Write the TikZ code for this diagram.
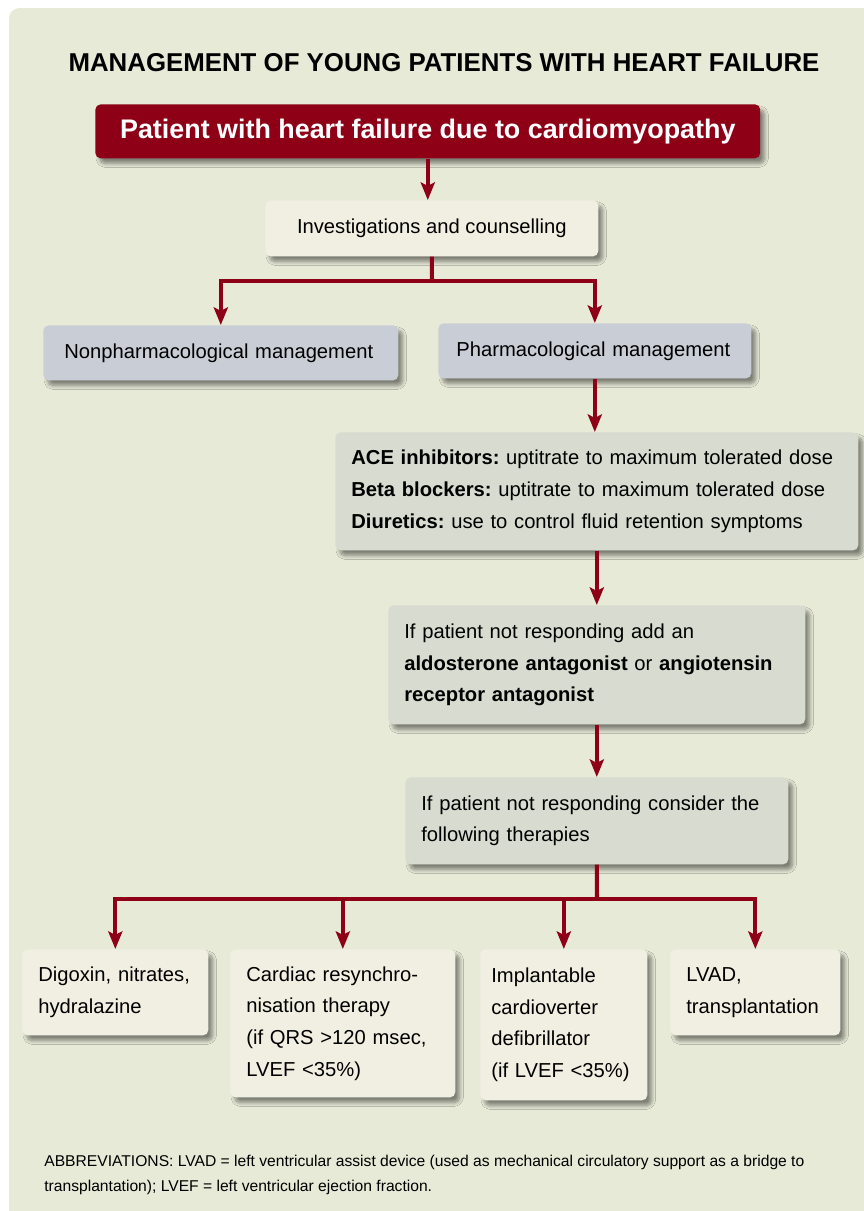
\documentclass[tikz,border=0pt]{standalone}
\usepackage{fontspec}
\setmainfont{Liberation Sans}
\usepackage{xcolor}
\usetikzlibrary{arrows.meta,shadows.blur}
\frenchspacing
\definecolor{cPanel}{RGB}{231,234,215}
\definecolor{cHeart}{RGB}{142,0,22}
\definecolor{cCream}{RGB}{240,239,226}
\definecolor{cBlue}{RGB}{201,205,214}
\definecolor{cGray}{RGB}{216,219,207}
\tikzset{
  box/.style={anchor=north west, rounded corners=3pt, inner xsep=0.32cm, align=left,
    font=\fontsize{11.5}{18}\selectfont,
    blur shadow={shadow xshift=2.5pt, shadow yshift=-3pt, shadow blur steps=8, shadow opacity=45}},
  wire/.style={draw=cHeart, line width=2.3pt},
  link/.style={wire, -{Stealth[length=10pt, width=8pt, inset=2pt]}}
}
\begin{document}
\begin{tikzpicture}[x=0.02cm, y=-0.02cm]
\useasboundingbox (0,0) rectangle (864,1211);
\clip (0,0) rectangle (864,1211);
\fill[white] (0,0) rectangle (864,1211);
\fill[cPanel, rounded corners=6pt] (9,8) rectangle (900,1250);

\node[font=\bfseries\fontsize{14.7}{16}\selectfont] (title) at (444,63) {MANAGEMENT OF YOUNG PATIENTS WITH HEART FAILURE};
\node[box, fill=cHeart, text=white, align=center, font=\bfseries\fontsize{15.3}{17}\selectfont,
  minimum width=13.3cm, minimum height=1.08cm] (patient) at (95,104) {Patient with heart failure due to cardiomyopathy};
\node[box, fill=cCream, align=center, minimum width=6.66cm, minimum height=1.12cm] (invest) at (265,200) {Investigations and counselling};
\node[box, fill=cBlue, inner xsep=0.42cm, text width=6.26cm, minimum height=1.1cm] (nonpharm) at (43,325) {Nonpharmacological management};
\node[box, fill=cBlue, inner xsep=0.36cm, text width=5.54cm, minimum height=1.1cm] (pharm) at (438,323) {Pharmacological management};
\node[box, fill=cGray, text width=9.82cm, minimum height=2.36cm] (drugs) at (335,432)
  {\textbf{ACE inhibitors:} uptitrate to maximum tolerated dose\\
   \textbf{Beta blockers:} uptitrate to maximum tolerated dose\\
   \textbf{Diuretics:} use to control fluid retention symptoms};
\node[box, fill=cGray, text width=7.70cm, minimum height=2.38cm] (addon) at (388,605)
  {If patient not responding add an\\
   \textbf{aldosterone antagonist} or \textbf{angiotensin}\\
   \textbf{receptor antagonist}};
\node[box, fill=cGray, text width=7.02cm, minimum height=1.74cm] (consider) at (405,777)
  {If patient not responding consider the\\following therapies};
\node[box, fill=cCream, text width=3.08cm, minimum height=1.72cm] (digoxin) at (22,949)
  {Digoxin, nitrates,\\hydralazine};
\node[box, fill=cCream, text width=3.86cm, minimum height=2.96cm] (crt) at (230,949)
  {Cardiac resynchro-\\nisation therapy\\(if QRS >120 msec,\\LVEF <35\%)};
\node[box, fill=cCream, inner xsep=0.22cm, text width=2.90cm, minimum height=3.02cm] (icd) at (480,949)
  {Implantable\\cardioverter\\defibrillator\\(if LVEF <35\%)};
\node[box, fill=cCream, text width=2.76cm, minimum height=1.72cm] (lvad) at (670,949)
  {LVAD,\\transplantation};
\node[anchor=west, align=left, inner sep=0pt, font=\fontsize{8.9}{14}\selectfont] (abbrev) at (44,1175)
  {ABBREVIATIONS: LVAD = left ventricular assist device (used as mechanical circulatory support as a bridge to\\
   transplantation); LVEF = left ventricular ejection fraction.};

\draw[link] (patient.south) -- (patient.south |- invest.north);
\coordinate (split) at (432,281);
\draw[wire] (invest.south) -- (split);
\draw[link] (split) -| (nonpharm.north);
\draw[link] (split) -| (pharm.north);
\draw[link] (pharm.south) -- (pharm.south |- drugs.north);
\draw[link] (drugs.south) -- (drugs.south |- addon.north);
\draw[link] (addon.south) -- (addon.south |- consider.north);
\coordinate (fork) at (597,899);
\draw[wire] (consider.south) -- (fork);
\foreach \t in {digoxin,crt,icd,lvad}
    \draw[link] (fork) -| (\t.north);
\end{tikzpicture}
\end{document}
